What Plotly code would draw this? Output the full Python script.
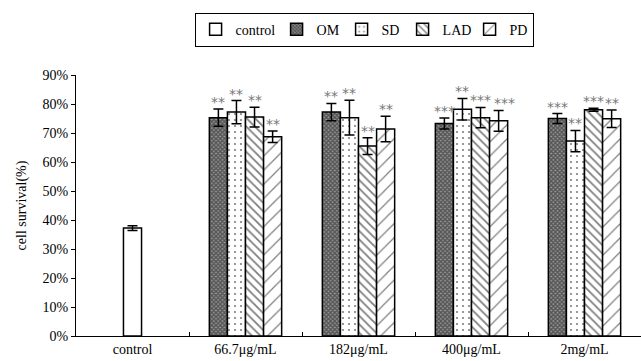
import plotly.graph_objects as go

categories = ["control", "66.7μg/mL", "182μg/mL", "400μg/mL", "2mg/mL"]
dose_cats = categories[1:]

control_val = [37.2]
control_err = [0.8]

series_names = ["OM", "SD", "LAD", "PD"]
om_vals = [75.3, 77.2, 73.3, 75.0]
om_err = [3.0, 3.0, 1.9, 1.7]
sd_vals = [77.2, 75.3, 78.2, 67.2]
sd_err = [4.0, 6.0, 3.7, 3.7]
lad_vals = [75.5, 65.5, 75.3, 78.0]
lad_err = [3.4, 2.9, 3.5, 0.5]
pd_vals = [68.7, 71.4, 74.2, 74.9]
pd_err = [2.0, 4.4, 3.6, 3.0]

om_sig = ["**", "**", "***", "***"]
sd_sig = ["**", "**", "**", "**"]
lad_sig = ["**", "**", "***", "***"]
pd_sig = ["**", "**", "***", "**"]

FONT = "Liberation Serif, Times New Roman, Times, serif"
W = 0.16
offsets = {"OM": -0.24, "SD": -0.08, "LAD": 0.08, "PD": 0.24}
legend_w = {"control": 36, "OM": 20, "SD": 16, "LAD": 22, "PD": 18}
patterns = {
    "OM": dict(shape="x", size=3, solidity=0.7, fgcolor="#111", bgcolor="#999"),
    "SD": dict(shape=".", size=6, solidity=0.1, fgcolor="#000", bgcolor="white"),
    "LAD": dict(shape="\\", size=6, solidity=0.3, fgcolor="#000", bgcolor="white"),
    "PD": dict(shape="/", size=10, solidity=0.12, fgcolor="#000", bgcolor="white"),
}
data = {
    "OM": (om_vals, om_err, om_sig),
    "SD": (sd_vals, sd_err, sd_sig),
    "LAD": (lad_vals, lad_err, lad_sig),
    "PD": (pd_vals, pd_err, pd_sig),
}

fig = go.Figure()
fig.add_trace(go.Bar(
    name="control", x=["control"], y=control_val, width=W, offset=-W / 2,
    legendwidth=legend_w["control"],
    marker=dict(color="white", line=dict(color="black", width=1.5)),
    error_y=dict(type="data", array=control_err, color="black", thickness=1.5, width=5),
))
for name in series_names:
    vals, errs, _ = data[name]
    fig.add_trace(go.Bar(
        name=name, x=dose_cats, y=vals, width=W, offset=offsets[name] - W / 2,
        legendwidth=legend_w[name],
        marker=dict(color="white", pattern=patterns[name], line=dict(color="black", width=1.5)),
        error_y=dict(type="data", array=errs, color="black", thickness=1.5, width=5),
    ))

annotations = []
for name in series_names:
    vals, errs, sigs = data[name]
    for i, (v, e, s) in enumerate(zip(vals, errs, sigs)):
        shift = 0
        if name == "PD" and s == "***" and lad_sig[i] == "***":
            shift = 6
        annotations.append(dict(
            x=i + 1 + offsets[name], y=v + e, xref="x", yref="y",
            text=s, showarrow=False, yanchor="bottom", yshift=-3, xshift=shift,
            font=dict(family="DejaVu Sans", size=14, color="#777"),
        ))

fig.update_layout(
    width=641, height=361,
    margin=dict(l=76, r=0, t=75, b=25),
    paper_bgcolor="white", plot_bgcolor="white",
    font=dict(family=FONT, size=14, color="black"),
    barmode="overlay",
    showlegend=True,
    legend=dict(
        orientation="h", xref="container", yref="container",
        x=0.568, y=0.965, xanchor="center", yanchor="top",
        bordercolor="black", borderwidth=1, font=dict(family=FONT, size=14),
        itemwidth=30, tracegroupgap=0,
    ),
    xaxis=dict(
        categoryorder="array", categoryarray=categories, range=[-0.5, 4.5],
        showline=True, linecolor="black", linewidth=1,
        ticks="inside", ticklen=4, tickson="boundaries", tickcolor="black",
        showgrid=False, tickfont=dict(family=FONT, size=14),
    ),
    yaxis=dict(
        range=[0, 90], dtick=10, ticksuffix="%",
        showline=True, linecolor="black", linewidth=1,
        ticks="outside", ticklen=4, tickcolor="black", showgrid=False, zeroline=False,
        title=dict(text="cell survival(%)", font=dict(family=FONT, size=14), standoff=12),
        tickfont=dict(family=FONT, size=14),
    ),
    annotations=annotations,
)

fig.write_html("out.html")
